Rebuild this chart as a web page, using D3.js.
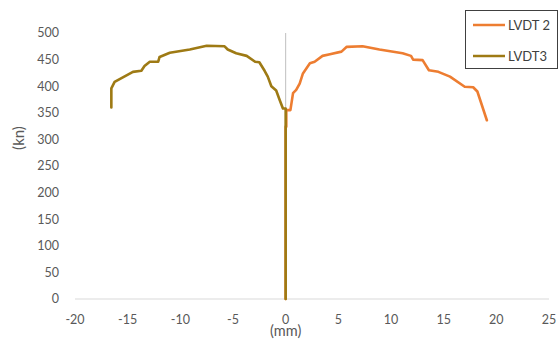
<!DOCTYPE html>
<html>
<head>
<meta charset="utf-8">
<script src="https://cdn.jsdelivr.net/npm/d3@7"></script>
<style>
  body { margin: 0; background: #fff; }
  text { font-family: Lato, "Open Sans", sans-serif; fill: #595959; }
</style>
</head>
<body>
<svg width="560" height="342"></svg>
<script>
var width = 560;
var height = 342;

// LVDT 2 (orange)
var lvdt2X = [0, 0, 0.06, 0.06, 0.45, 0.7, 1.0, 1.33, 1.64, 2.3, 2.75, 3.5, 4.2, 5.3, 5.8, 7.3, 8.9, 11.1, 11.9, 12.1, 13.0, 13.6, 14.5, 15.6, 17.0, 17.8, 18.2, 19.1];
var lvdt2Y = [0, 324, 324, 355, 355, 387, 393, 405, 424, 443, 446, 457, 460, 465, 474, 475, 469, 462, 457, 450, 449, 430, 427, 418, 399, 398, 390, 336];

// LVDT3 (olive)
var lvdt3X = [0, 0, 0, -0.26, -0.57, -0.9, -1.36, -1.7, -2.0, -2.5, -2.9, -3.7, -4.7, -5.5, -5.8, -7.5, -9.1, -11.0, -11.97, -12.1, -12.9, -13.4, -13.7, -14.5, -16.24, -16.55, -16.55];
var lvdt3Y = [0, 323, 358, 358, 374, 392, 400, 418, 429, 445, 446, 457, 462, 469, 475, 476, 469, 463, 455, 446, 446, 438, 429, 427, 408, 396, 360];

var xTicks = [-20, -15, -10, -5, 0, 5, 10, 15, 20, 25];
var yTicks = [0, 50, 100, 150, 200, 250, 300, 350, 400, 450, 500];
var seriesNames = ["LVDT 2", "LVDT3"];
var seriesColors = ["#ED7D31", "#9E7A14"];

var xScale = d3.scaleLinear()
                .domain([-20, 25])
                .range([75, 549]);

var yScale = d3.scaleLinear()
                .domain([0, 500])
                .range([299, 33]);

var svg = d3.select("svg");

// horizontal axis line at y = 0
svg.append("line")
    .attr("x1", xScale(-20)).attr("x2", xScale(25))
    .attr("y1", yScale(0)).attr("y2", yScale(0))
    .attr("stroke", "#d9d9d9")
    .attr("stroke-width", 1);

// vertical axis line at x = 0
svg.append("line")
    .attr("x1", xScale(0)).attr("x2", xScale(0))
    .attr("y1", yScale(0)).attr("y2", yScale(500))
    .attr("stroke", "#bfbfbf")
    .attr("stroke-width", 1);

// x tick labels
svg.append("g")
    .selectAll("text")
    .data(xTicks)
    .enter()
    .append("text")
      .attr("x", d => xScale(d))
      .attr("y", 324)
      .attr("text-anchor", "middle")
      .attr("font-size", "12.5px")
      .text(d => d);

// y tick labels
svg.append("g")
    .selectAll("text")
    .data(yTicks)
    .enter()
    .append("text")
      .attr("x", 59)
      .attr("y", d => yScale(d))
      .attr("dy", "0.35em")
      .attr("text-anchor", "end")
      .attr("font-size", "12.5px")
      .text(d => d);

// axis titles
svg.append("text")
    .attr("x", xScale(0))
    .attr("y", 336)
    .attr("text-anchor", "middle")
    .attr("font-size", "14.5px")
    .text("(mm)");

svg.append("text")
    .attr("transform", "translate(24,138) rotate(-90)")
    .attr("text-anchor", "middle")
    .attr("font-size", "15px")
    .text("(kn)");

var line = d3.line()
    .x(d => xScale(d[0]))
    .y(d => yScale(d[1]));

var series = [
  d3.zip(lvdt2X, lvdt2Y),
  d3.zip(lvdt3X, lvdt3Y)
];

svg.append("g")
    .selectAll("path")
    .data(series)
    .enter()
    .append("path")
      .attr("d", line)
      .attr("fill", "none")
      .attr("stroke", (d, i) => seriesColors[i])
      .attr("stroke-width", 2.6)
      .attr("stroke-linejoin", "round")
      .attr("stroke-linecap", "round");

// legend
var legend = svg.append("g");
legend.append("rect")
    .attr("x", 465.5).attr("y", 10.5)
    .attr("width", 92).attr("height", 58)
    .attr("fill", "#fff")
    .attr("stroke", "#404040")
    .attr("stroke-width", 1);

var items = legend.selectAll("g")
    .data(seriesNames)
    .enter()
    .append("g")
      .attr("transform", (d, i) => "translate(0," + (25 + i * 31) + ")");

items.append("line")
    .attr("x1", 473).attr("x2", 505)
    .attr("y1", 0).attr("y2", 0)
    .attr("stroke", (d, i) => seriesColors[i])
    .attr("stroke-width", 2.5);

items.append("text")
    .attr("x", 508)
    .attr("dy", "0.35em")
    .attr("font-size", "13px")
    .style("fill", "#404040")
    .text(d => d);
</script>
</body>
</html>
